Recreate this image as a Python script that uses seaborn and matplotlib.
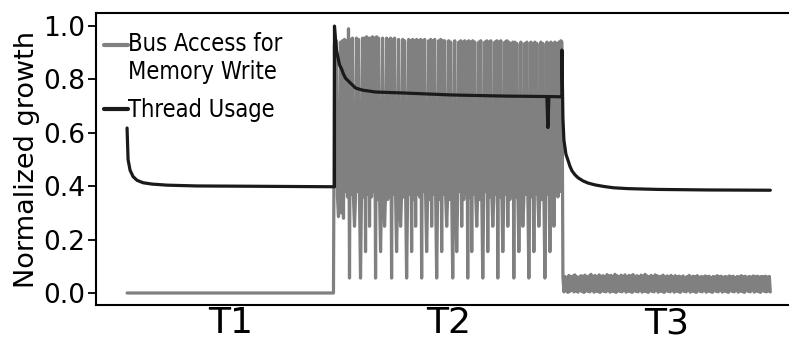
import os
import numpy as np
import pandas as pd
import matplotlib
matplotlib.use("Agg")
import matplotlib.pyplot as plt
import seaborn as sns
from matplotlib import font_manager as fm
from matplotlib.lines import Line2D
from matplotlib.legend_handler import HandlerLine2D

# Phases and sample counts
phases = ["T1", "T2", "T3"]
phase_len = [207, 228, 208]

bus_t1 = [0.0, 0.0]  # idle over the whole T1 phase
bus_t2 = [
    0.93, 0.40, 0.945, 0.36, 0.286, 0.37, 0.94, 0.30, 0.945, 0.28,
    0.95, 0.38, 0.945, 0.36, 0.99, 0.056, 0.95, 0.37, 0.955, 0.35,
    0.25, 0.36, 0.955, 0.38, 0.95, 0.35, 0.056, 0.37, 0.955, 0.36,
    0.955, 0.155, 0.96, 0.37, 0.955, 0.25, 0.955, 0.36, 0.96, 0.38,
    0.955, 0.056, 0.96, 0.35, 0.955, 0.37, 0.155, 0.36, 0.955, 0.38,
    0.25, 0.37, 0.955, 0.35, 0.95, 0.36, 0.955, 0.056, 0.95, 0.37,
    0.955, 0.36, 0.155, 0.38, 0.95, 0.35, 0.25, 0.37, 0.95, 0.36,
    0.945, 0.38, 0.056, 0.36, 0.95, 0.37, 0.945, 0.155, 0.95, 0.35,
    0.945, 0.25, 0.95, 0.37, 0.945, 0.36, 0.95, 0.056, 0.945, 0.38,
    0.95, 0.36, 0.155, 0.37, 0.945, 0.35, 0.95, 0.25, 0.945, 0.37,
    0.95, 0.36, 0.056, 0.38, 0.945, 0.35, 0.95, 0.155, 0.945, 0.37,
    0.945, 0.36, 0.25, 0.37, 0.945, 0.35, 0.94, 0.38, 0.056, 0.36,
    0.945, 0.37, 0.155, 0.36, 0.94, 0.38, 0.945, 0.25, 0.94, 0.35,
    0.945, 0.37, 0.94, 0.056, 0.945, 0.36, 0.94, 0.155, 0.945, 0.37,
    0.94, 0.36, 0.25, 0.38, 0.94, 0.35, 0.945, 0.37, 0.056, 0.36,
    0.94, 0.38, 0.945, 0.155, 0.94, 0.36, 0.945, 0.37, 0.25, 0.35,
    0.94, 0.37, 0.945, 0.056, 0.94, 0.36, 0.945, 0.38, 0.155, 0.36,
    0.94, 0.37, 0.945, 0.25, 0.94, 0.35, 0.935, 0.37, 0.94, 0.056,
    0.94, 0.36, 0.935, 0.38, 0.155, 0.36, 0.94, 0.37, 0.25, 0.35,
    0.935, 0.37, 0.94, 0.36, 0.056, 0.38, 0.94, 0.36, 0.935, 0.155,
    0.94, 0.37, 0.935, 0.36, 0.25, 0.38, 0.94, 0.35, 0.935, 0.37,
    0.056, 0.36, 0.94, 0.37, 0.935, 0.155, 0.94, 0.36, 0.935, 0.25,
    0.94, 0.37, 0.935, 0.36, 0.94, 0.38, 0.945, 0.94,
]
bus_t3 = [
    0.060, 0.004, 0.062, 0.008, 0.058, 0.002, 0.066, 0.006, 0.060, 0.010,
    0.064, 0.004, 0.068, 0.007, 0.061, 0.003, 0.059, 0.009, 0.065, 0.005,
    0.063, 0.002, 0.067, 0.008, 0.060, 0.006, 0.064, 0.004, 0.070, 0.010,
    0.062, 0.003, 0.066, 0.007, 0.059, 0.005, 0.068, 0.002, 0.063, 0.008,
    0.065, 0.006, 0.061, 0.004, 0.069, 0.009, 0.064, 0.003, 0.066, 0.007,
    0.062, 0.005, 0.070, 0.002, 0.065, 0.008, 0.061, 0.006, 0.067, 0.004,
    0.063, 0.010, 0.068, 0.003, 0.060, 0.007, 0.066, 0.005, 0.064, 0.002,
    0.069, 0.008, 0.062, 0.006, 0.065, 0.004, 0.061, 0.009, 0.067, 0.003,
    0.063, 0.007, 0.070, 0.005, 0.064, 0.002, 0.060, 0.008, 0.066, 0.006,
    0.062, 0.004, 0.068, 0.010, 0.065, 0.003, 0.061, 0.007, 0.063, 0.005,
    0.067, 0.002, 0.060, 0.008, 0.064, 0.006, 0.062, 0.004, 0.066, 0.009,
    0.059, 0.003, 0.065, 0.007, 0.061, 0.005, 0.063, 0.002, 0.060, 0.008,
    0.064, 0.006, 0.058, 0.004, 0.062, 0.010, 0.066, 0.003, 0.060, 0.007,
    0.063, 0.005, 0.061, 0.002, 0.065, 0.008, 0.059, 0.006, 0.062, 0.004,
    0.060, 0.009, 0.064, 0.003, 0.061, 0.007, 0.063, 0.005, 0.058, 0.002,
    0.062, 0.008, 0.060, 0.006, 0.065, 0.004, 0.061, 0.010, 0.063, 0.003,
    0.059, 0.007, 0.062, 0.005, 0.060, 0.002, 0.064, 0.008, 0.061, 0.006,
    0.063, 0.004, 0.058, 0.009, 0.062, 0.003, 0.060, 0.007, 0.065, 0.005,
    0.061, 0.002, 0.063, 0.008, 0.059, 0.006, 0.062, 0.004, 0.060, 0.010,
    0.064, 0.003, 0.061, 0.007, 0.063, 0.005, 0.060, 0.002, 0.062, 0.008,
    0.061, 0.006, 0.063, 0.004, 0.060, 0.007, 0.062, 0.004,
]

# Thread usage (key points: sample index, value)
thread_x = [0, 1, 3, 6, 10, 16, 25, 40, 70, 120, 207,
            207, 208, 209, 211, 212, 214, 216, 218, 222, 228, 235, 248, 278, 323, 373,
            419, 420, 421, 433, 434,
            434, 435, 436, 438, 440, 442, 444, 447, 450, 455, 460, 467, 476, 486,
            500, 530, 580, 642]
thread_y = [0.618, 0.50, 0.46, 0.436, 0.422, 0.413, 0.408, 0.404, 0.401, 0.400, 0.398,
            1.0, 0.95, 0.91, 0.873, 0.855, 0.84, 0.82, 0.805, 0.79, 0.768, 0.76, 0.753, 0.749, 0.742, 0.738,
            0.736, 0.62, 0.736, 0.735, 0.735,
            0.91, 0.655, 0.573, 0.52, 0.498, 0.475, 0.458, 0.443, 0.432, 0.42, 0.412, 0.405, 0.399, 0.394,
            0.391, 0.388, 0.386, 0.385]

bus_label = "Bus Access for\nMemory Write"
thread_label = "Thread Usage"

# Build long-form table
start = np.cumsum([0] + phase_len[:-1])
bus_x = np.concatenate([[0, phase_len[0] - 1],
                        start[1] + np.arange(len(bus_t2)),
                        start[2] + np.arange(len(bus_t3))])
bus_y = np.concatenate([bus_t1, bus_t2, bus_t3])
df = pd.concat([
    pd.DataFrame({"step": bus_x, "value": bus_y, "series": bus_label}),
    pd.DataFrame({"step": thread_x, "value": thread_y, "series": thread_label}),
], ignore_index=True)

sns.set_style("ticks")
plt.rcParams["font.family"] = ["DejaVu Sans"]
for key in ["text.color", "axes.labelcolor", "xtick.color", "ytick.color"]:
    plt.rcParams[key] = "black"

fig = plt.figure(figsize=(7.89, 3.38), dpi=100)
ax = fig.add_axes([96 / 789, 1 - 305 / 338, 1 - 96 / 789 + 0.003, 292 / 338])

palette = {bus_label: "#808080", thread_label: "#1a1a1a"}
sns.lineplot(data=df, x="step", y="value", hue="series", palette=palette,
             estimator=None, sort=False, linewidth=2.3, legend=False, ax=ax)

ax.set_xlim(-31, 663)
ax.set_ylim(-0.045, 1.049)
centers = [s + n / 2 for s, n in zip(start, phase_len)]
ax.set_xticks(centers)
ax.set_xticklabels(phases, fontsize=26)
ax.tick_params(axis="x", length=0, pad=1)
ax.set_yticks([0.0, 0.2, 0.4, 0.6, 0.8, 1.0])
ax.set_yticklabels(["0.0", "0.2", "0.4", "0.6", "0.8", "1.0"], fontsize=19)
ax.tick_params(axis="y", length=6, width=1.3, pad=2)
ax.set_xlabel("")
ax.set_ylabel("Normalized growth", fontsize=19.5, labelpad=2)
for sp in ax.spines.values():
    sp.set_linewidth(1.5)
    sp.set_color("black")

# condensed legend font if available
cond = [f.fname for f in fm.fontManager.ttflist
        if os.path.basename(f.fname) == "DejaVuSansCondensed.ttf"]
leg_size = 17
if cond:
    leg_prop = fm.FontProperties(fname=cond[0], size=leg_size)
else:
    leg_prop = fm.FontProperties(family="DejaVu Sans", stretch="condensed", size=leg_size)


class TopLineHandler(HandlerLine2D):
    # put the handle next to the first line of a two-line label
    def create_artists(self, legend, orig_handle, xdescent, ydescent, width,
                       height, fontsize, trans):
        arts = super().create_artists(legend, orig_handle, xdescent, ydescent,
                                      width, height, fontsize, trans)
        for a in arts:
            a.set_ydata(np.asarray(a.get_ydata()) + 0.58 * fontsize)
        return arts


bus_handle = Line2D([], [], color=palette[bus_label], lw=3)
thread_handle = Line2D([], [], color=palette[thread_label], lw=3)
ax.legend([bus_handle, thread_handle], [bus_label, thread_label], loc="upper left",
          bbox_to_anchor=(0.0115, 0.935), frameon=False, handlelength=1.0,
          handletextpad=0.0, borderaxespad=0.0, borderpad=0.0, labelspacing=0.6,
          prop=leg_prop, handler_map={bus_handle: TopLineHandler()})

fig.savefig("out.png", dpi=100)
